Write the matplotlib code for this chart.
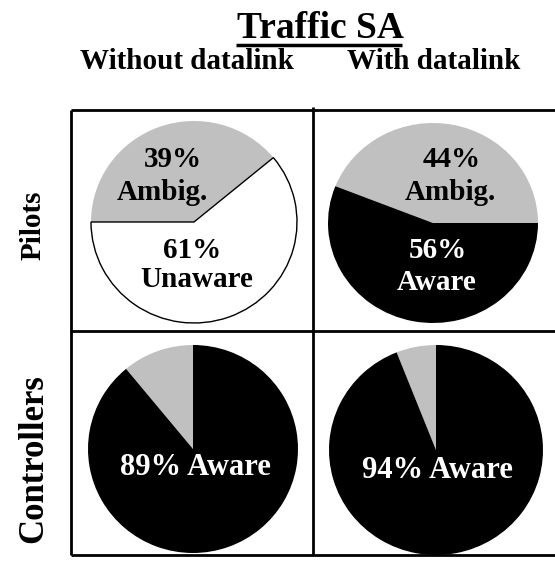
import matplotlib
matplotlib.use("Agg")
import matplotlib.pyplot as plt
from matplotlib.lines import Line2D

W, H = 555, 565
title = "Traffic SA"
columns = ["Without datalink", "With datalink"]
rows = ["Pilots", "Controllers"]

pilots_without = [39, 61]       # Ambig., Unaware
pilots_with = [44, 56]          # Ambig., Aware
ctrl_without = [11, 89]         # Ambig., Aware
ctrl_with = [6, 94]             # Ambig., Aware

GRAY = "#c0c0c0"
FONT = "Liberation Serif"

fig = plt.figure(figsize=(W / 100, H / 100), dpi=100)
fig.patch.set_facecolor("white")


def fx(x):
    return x / W


def fy(y):
    return 1 - y / H


def txt(x, y, s, size, color="black", rot=0, va="baseline"):
    fig.text(fx(x), fy(y), s, ha="center", va=va, fontsize=size,
             fontweight="bold", family=FONT, color=color, rotation=rot,
             rotation_mode="anchor")


def pie_ax(cx, cy, rx, ry):
    ax = fig.add_axes([fx(cx - rx), fy(cy + ry), 2 * rx / W, 2 * ry / H])
    ax.axis("off")
    return ax


def fix(ax):
    ax.set_xlim(-1.0, 1.0)
    ax.set_ylim(-1.0, 1.0)
    ax.set_aspect("auto")


def line(x0, y0, x1, y1, lw=2.0):
    fig.add_artist(Line2D([fx(x0), fx(x1)], [fy(y0), fy(y1)], color="black",
                          lw=lw, transform=fig.transFigure, solid_capstyle="butt"))


# grid lines
line(71, 110, 555, 110)
line(71, 110, 71, 555)
line(313, 107, 313, 555)
line(70, 331, 555, 331)
line(71, 555, 555, 555)

# title and headers
txt(320, 38, title, 27)
line(236, 45, 402, 45, lw=2.5)
txt(187, 69, columns[0], 21)
txt(434, 69, columns[1], 21)
txt(41, 225, rows[0], 21, rot=90, va="baseline")
txt(42, 459, rows[1], 25, rot=90, va="baseline")

# pies
ax = pie_ax(194, 222, 103, 101)
w, _ = ax.pie(pilots_without, colors=[GRAY, "white"], startangle=180, counterclock=False,
              radius=1, wedgeprops=dict(edgecolor="black", linewidth=1.0))
w[0].set_edgecolor("none")
fix(ax)

ax = pie_ax(433, 223, 105, 100)
ax.pie(pilots_with, colors=[GRAY, "black"], startangle=0, counterclock=True, radius=1)
fix(ax)

ax = pie_ax(193, 449, 105, 104)
ax.pie(ctrl_without, colors=[GRAY, "black"], startangle=90, counterclock=True, radius=1)
fix(ax)

ax = pie_ax(436, 450, 107, 105)
ax.pie(ctrl_with, colors=[GRAY, "black"], startangle=90, counterclock=True, radius=1)
fix(ax)

# labels
LS = 21
txt(173, 167, f"{pilots_without[0]}%", LS)
txt(162, 200, "Ambig.", LS)
txt(192, 258, f"{pilots_without[1]}%", LS)
txt(197, 287, "Unaware", LS)

txt(452, 167, f"{pilots_with[0]}%", LS)
txt(450, 200, "Ambig.", LS)
txt(438, 258, f"{pilots_with[1]}%", LS, color="white")
txt(437, 290, "Aware", LS, color="white")

txt(195, 475, f"{ctrl_without[1]}% Aware", 22, color="white")
txt(437, 478, f"{ctrl_with[1]}% Aware", 22, color="white")

fig.savefig("out.png", dpi=100)
